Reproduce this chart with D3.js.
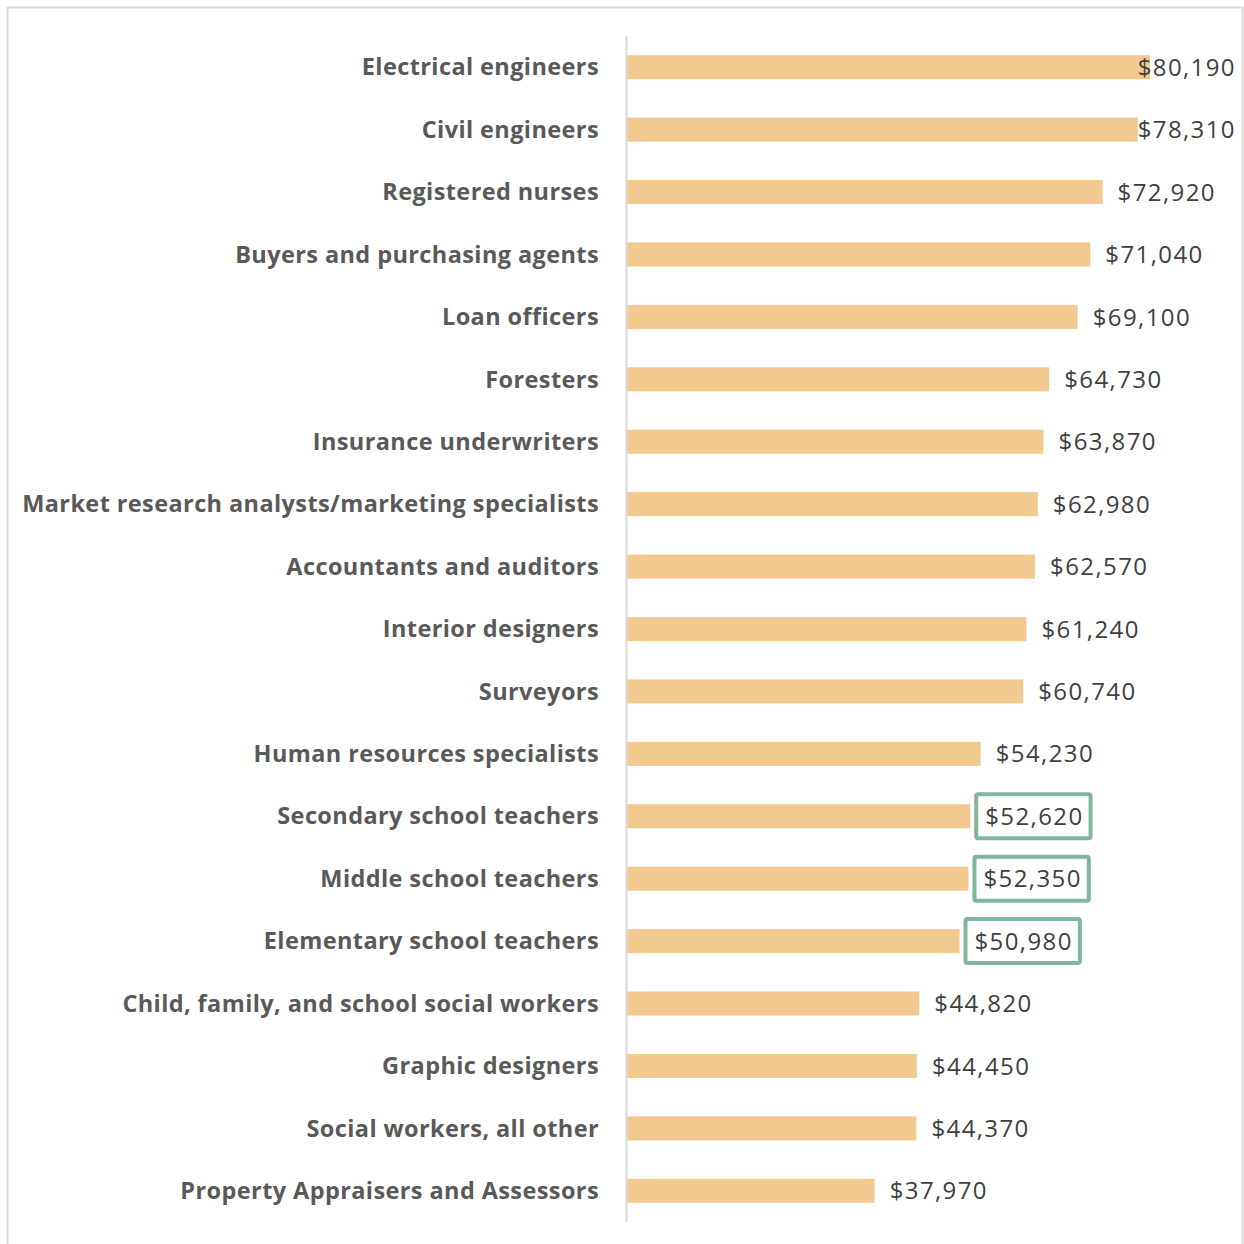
<!DOCTYPE html>
<html>
<head>
<meta charset="utf-8">
<script src="https://cdn.jsdelivr.net/npm/d3@7"></script>
<style>
  body { margin: 0; background: #fff; }
</style>
</head>
<body>
<div id="chart"></div>
<script>
// occupations, top to bottom
const categories = [
  "Electrical engineers",
  "Civil engineers",
  "Registered nurses",
  "Buyers and purchasing agents",
  "Loan officers",
  "Foresters",
  "Insurance underwriters",
  "Market research analysts/marketing specialists",
  "Accountants and auditors",
  "Interior designers",
  "Surveyors",
  "Human resources specialists",
  "Secondary school teachers",
  "Middle school teachers",
  "Elementary school teachers",
  "Child, family, and school social workers",
  "Graphic designers",
  "Social workers, all other",
  "Property Appraisers and Assessors"
];

// median annual wage
const wages = [80190, 78310, 72920, 71040, 69100, 64730, 63870, 62980, 62570,
  61240, 60740, 54230, 52620, 52350, 50980, 44820, 44450, 44370, 37970];

// labels drawn with a green box
const highlighted = ["Secondary school teachers", "Middle school teachers", "Elementary school teachers"];

const width = 1244, height = 1244;
const axisX = 627, plotTop = 36, plotBottom = 1222, labelRightLimit = 1236;

const data = categories.map((c, i) => ({ categoria: c, valor: wages[i] }));

const x = d3.scaleLinear()
  .domain([0, 90000])
  .range([axisX, axisX + 587]);

const y = d3.scaleBand()
  .domain(categories)
  .range([plotTop, plotBottom])
  .paddingInner(0.615)
  .paddingOuter(0.3075);

const fmt = v => "$" + d3.format(",")(v);

const svg = d3.select("#chart").append("svg")
  .attr("width", width)
  .attr("height", height)
  .attr("viewBox", [0, 0, width, height]);

// outer frame
svg.append("rect")
  .attr("x", 7.5).attr("y", 7.5)
  .attr("width", 1235).attr("height", 1240)
  .attr("fill", "#fff")
  .attr("stroke", "#d9d9d9")
  .attr("stroke-width", 2);

// bars
svg.append("g")
  .selectAll("rect")
  .data(data)
  .join("rect")
  .attr("x", x(0))
  .attr("y", d => y(d.categoria))
  .attr("width", d => x(d.valor) - x(0))
  .attr("height", y.bandwidth())
  .attr("fill", "#f2c98f");

// vertical axis line
svg.append("line")
  .attr("x1", axisX - 0.5).attr("x2", axisX - 0.5)
  .attr("y1", plotTop).attr("y2", plotBottom)
  .attr("stroke", "#d9d9d9")
  .attr("stroke-width", 2);

// category labels
svg.append("g")
  .selectAll("text")
  .data(data)
  .join("text")
  .attr("x", 599)
  .attr("y", d => y(d.categoria) + y.bandwidth() / 2)
  .attr("dy", "0.35em")
  .attr("text-anchor", "end")
  .attr("font-family", "'Open Sans', sans-serif")
  .attr("font-weight", "bold")
  .attr("font-size", 23.5)
  .attr("letter-spacing", 0.4)
  .attr("fill", "#595959")
  .text(d => d.categoria);

// value labels, pushed inward near the right edge like Excel does
const valueLabels = svg.append("g")
  .selectAll("text")
  .data(data)
  .join("text")
  .attr("y", d => y(d.categoria) + y.bandwidth() / 2)
  .attr("dy", "0.36em")
  .attr("font-family", "'Open Sans', sans-serif")
  .attr("font-size", 24)
  .attr("letter-spacing", 1.4)
  .attr("fill", "#404040")
  .text(d => fmt(d.valor));

valueLabels.each(function(d) {
  const w = this.getComputedTextLength();
  const start = Math.min(x(d.valor) + 15, labelRightLimit - w);
  d3.select(this).attr("x", start);
});

// green boxes around teacher values
valueLabels.filter(d => highlighted.includes(d.categoria)).each(function(d) {
  const bb = this.getBBox();
  const cy = y(d.categoria) + y.bandwidth() / 2;
  svg.append("rect")
    .attr("x", bb.x - 9)
    .attr("y", cy - 22)
    .attr("width", bb.width + 16)
    .attr("height", 44)
    .attr("rx", 2)
    .attr("fill", "none")
    .attr("stroke", "#80b69b")
    .attr("stroke-width", 4);
});
</script>
</body>
</html>
